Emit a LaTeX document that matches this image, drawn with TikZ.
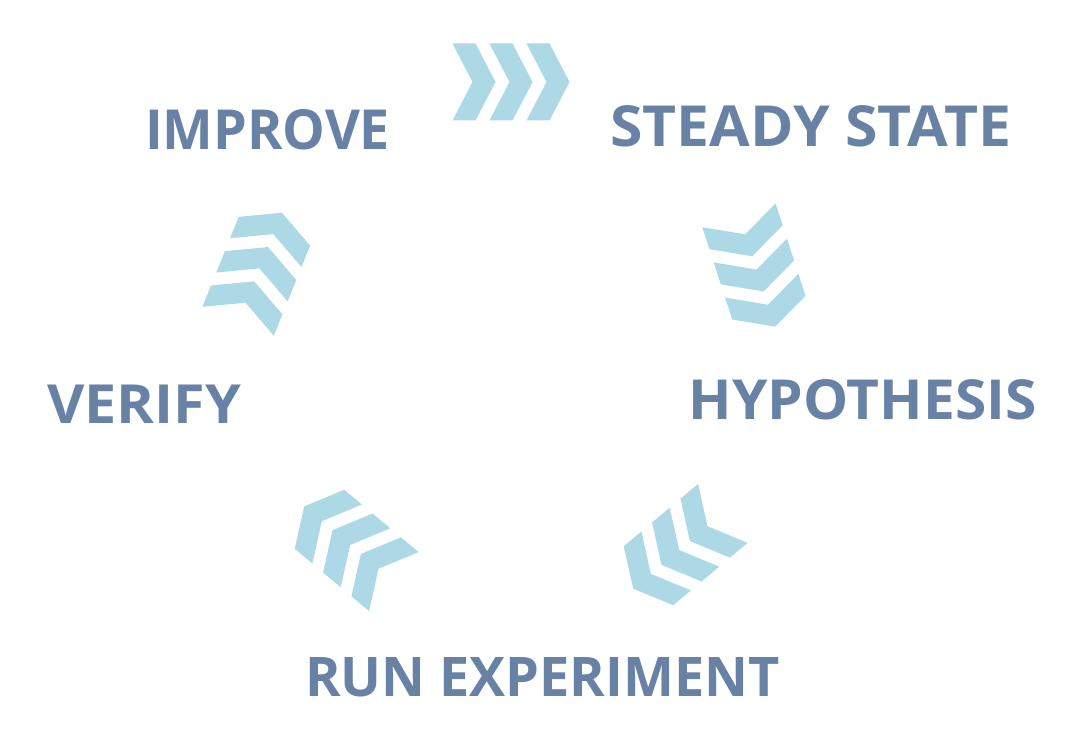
\documentclass[tikz,border=0pt]{standalone}
\usepackage{fontspec}
\setmainfont{Open Sans}
\definecolor{chevcol}{RGB}{173,216,230}
\definecolor{labcol}{RGB}{104,130,166}
\tikzset{
  chev/.style={fill=chevcol, draw=none},
  lab/.style={inner sep=0pt, outer sep=0pt, anchor=south west, text=labcol, font=\bfseries\fontsize{40}{40}\selectfont},
  chevgroup/.pic={
    \foreach \i in {0,1,2} {
      \fill[chev] ({-58.5+37*\i},38.5) -- ++(23,0) -- ++(20,-38.5) -- ++(-20,-38.5) -- ++(-23,0) -- ++(20,38.5) -- cycle;
    }
  }
}
\begin{document}
\begin{tikzpicture}[x=1pt,y=1pt]
\fill[white] (0,0) rectangle (1080,752);
\useasboundingbox (0,0) rectangle (1080,752);
% chevron groups
\pic[rotate=0] at (511,670) {chevgroup};
\pic[rotate=-72] at (757,481) {chevgroup};
\pic[rotate=-140] at (678,201) {chevgroup};
\pic[rotate=140] at (349,208) {chevgroup};
\pic[rotate=68] at (260,485) {chevgroup};
% labels
\node[lab] (improve) at (145,{752-150}) {\resizebox{245pt}{40pt}{IMPROVE}};
\node[lab] (steady) at (610,{752-147}) {\resizebox{401pt}{41pt}{STEADY STATE}};
\node[lab] (hypo) at (688.5,{752-420}) {\resizebox{348pt}{40pt}{HYPOTHESIS}};
\node[lab] (verify) at (47,{752-423.5}) {\resizebox{194pt}{38.5pt}{VERIFY}};
\node[lab] (run) at (305,{752-697.5}) {\resizebox{475pt}{39pt}{RUN EXPERIMENT}};
\end{tikzpicture}
\end{document}
